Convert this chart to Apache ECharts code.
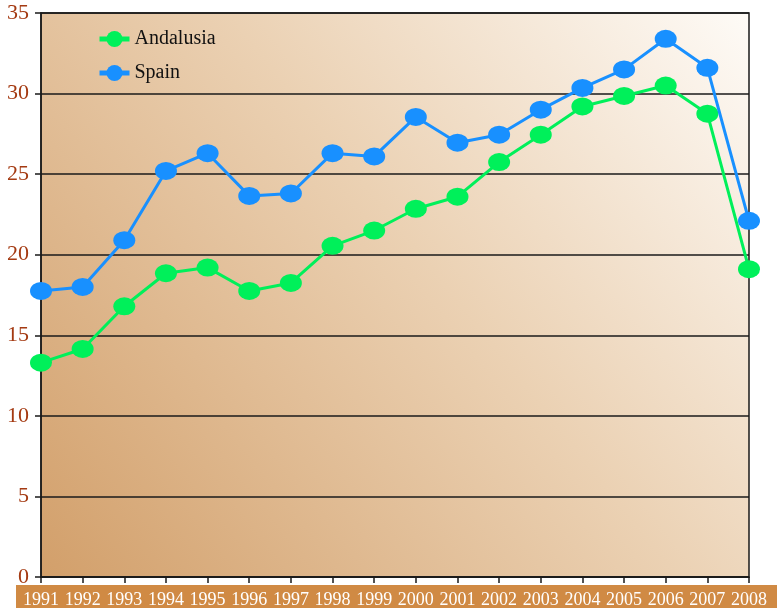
<!DOCTYPE html>
<html>
<head>
<meta charset="utf-8">
<script src="https://cdn.jsdelivr.net/npm/echarts@6/dist/echarts.min.js"></script>
<style>
  html, body { margin: 0; padding: 0; background: #fff; }
  #lineChart { width: 777px; height: 608px; }
</style>
</head>
<body>
<div id="lineChart"></div>
<script>
// categories
const years = ['1991', '1992', '1993', '1994', '1995', '1996', '1997', '1998', '1999',
  '2000', '2001', '2002', '2003', '2004', '2005', '2006', '2007', '2008']
// series values
const andalusia = [13.3, 14.15, 16.8, 18.85, 19.2, 17.75, 18.25, 20.55, 21.5,
  22.85, 23.6, 25.75, 27.45, 29.2, 29.85, 30.5, 28.75, 19.1]
const spain = [17.75, 18.0, 20.9, 25.2, 26.3, 23.65, 23.8, 26.3, 26.1,
  28.55, 26.95, 27.45, 29.0, 30.35, 31.5, 33.4, 31.6, 22.1]
// y ticks
const yMin = 0
const yMax = 35
const yStep = 5

const serif = '"Liberation Serif", "DejaVu Serif", serif'

const chart = echarts.init(document.getElementById('lineChart'))

const option = {
    animation: false,
    graphic: [
        {
            type: 'rect',
            z: -1,
            shape: { x: 16, y: 585, width: 761, height: 23 },
            style: { fill: '#d08a44' }
        }
    ],
    legend: {
        left: 92,
        top: 24,
        orient: 'vertical',
        itemGap: 14,
        itemWidth: 30,
        itemHeight: 20,
        lineStyle: { width: 5 },
        textStyle: { fontFamily: serif, fontSize: 20, color: '#111' },
        data: ['Andalusia', 'Spain']
    },
    grid: {
        left: 41,
        right: 28,
        top: 13,
        bottom: 31,
        outerBoundsMode: 'none',
        containLabel: false,
        show: true,
        borderColor: '#1a1a1a',
        borderWidth: 1.5,
        backgroundColor: new echarts.graphic.LinearGradient(0, 1, 1, 0, [
            { offset: 0, color: '#d29f6a' },
            { offset: 0.55, color: '#ebd1b3' },
            { offset: 1, color: '#fefbf7' }
        ])
    },
    xAxis: {
        type: 'category',
        boundaryGap: false,
        data: years,
        axisLine: { lineStyle: { color: '#1a1a1a', width: 1.5 } },
        axisTick: { show: true, length: 6, lineStyle: { color: '#1a1a1a', width: 1.5 } },
        axisLabel: {
            interval: 0,
            margin: 14,
            fontFamily: serif,
            fontSize: 18,
            color: '#ffffff'
        },
        splitLine: { show: false }
    },
    yAxis: {
        type: 'value',
        min: yMin,
        max: yMax,
        interval: yStep,
        axisLine: { show: true, lineStyle: { color: '#1a1a1a', width: 1.5 } },
        axisTick: { show: true, length: 6, lineStyle: { color: '#1a1a1a', width: 1.5 } },
        axisLabel: {
            margin: 12,
            fontFamily: serif,
            fontSize: 22,
            color: '#a43a12'
        },
        splitLine: { show: true, lineStyle: { color: '#1a1a1a', width: 1.5 } }
    },
    series: [
        {
            name: 'Andalusia',
            type: 'line',
            data: andalusia,
            clip: false,
            symbol: 'circle',
            symbolSize: [22, 18],
            lineStyle: { color: '#00f05a', width: 3 },
            itemStyle: { color: '#00f05a' },
            z: 3
        },
        {
            name: 'Spain',
            type: 'line',
            data: spain,
            clip: false,
            symbol: 'circle',
            symbolSize: [22, 18],
            lineStyle: { color: '#1890ff', width: 3 },
            itemStyle: { color: '#1890ff' },
            z: 4
        }
    ]
}

chart.setOption(option)
</script>
</body>
</html>
